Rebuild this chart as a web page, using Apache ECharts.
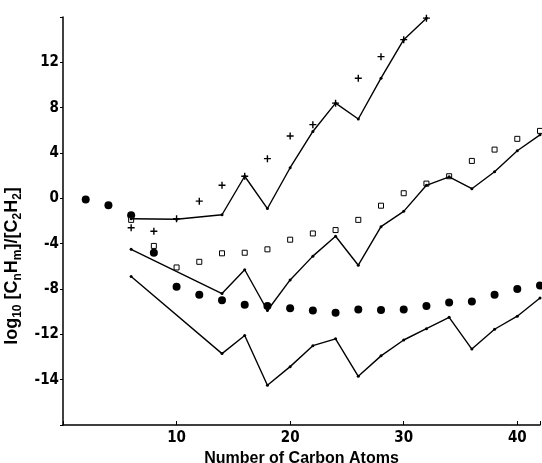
<!DOCTYPE html>
<html>
<head>
<meta charset="utf-8">
<script src="https://cdn.jsdelivr.net/npm/echarts@6/dist/echarts.min.js"></script>
<style>
* { margin: 0; padding: 0; }
body { background: #fff; }
</style>
</head>
<body>
<div id="chart" style="width: 542px;height: 463px;"></div>
<script>
// data (x = number of carbon atoms)
const dotX = [2, 4, 6, 8, 10, 12, 14, 16, 18, 20, 22, 24, 26, 28, 30, 32, 34, 36, 38, 40, 42]
const dotY = [-0.1, -0.6, -1.5, -4.8, -7.8, -8.5, -9.0, -9.4, -9.5, -9.7, -9.9, -10.1, -9.8, -9.85, -9.8, -9.5, -9.2, -9.1, -8.5, -8.0, -7.7]

const squareX = [6, 8, 10, 12, 14, 16, 18, 20, 22, 24, 26, 28, 30, 32, 34, 36, 38, 40, 42]
const squareY = [-1.9, -4.2, -6.1, -5.6, -4.85, -4.8, -4.5, -3.65, -3.1, -2.8, -1.9, -0.65, 0.45, 1.3, 1.95, 3.3, 4.3, 5.25, 5.95]

const crossX = [6, 8, 10, 12, 14, 16, 18, 20, 22, 24, 26, 28, 30, 32]
const crossY = [-2.6, -2.9, -1.8, -0.25, 1.15, 1.95, 3.5, 5.5, 6.5, 8.4, 10.6, 12.5, 14.0, 15.9]

const upperX = [6, 10, 14, 16, 18, 20, 22, 24, 26, 28, 30, 32]
const upperY = [-1.8, -1.85, -1.45, 1.95, -0.9, 2.7, 5.9, 8.4, 7.0, 10.6, 14.0, 15.9]

const middleX = [6, 14, 16, 18, 20, 22, 24, 26, 28, 30, 32, 34, 36, 38, 40, 42]
const middleY = [-4.5, -8.4, -6.3, -9.9, -7.2, -5.1, -3.35, -5.9, -2.5, -1.15, 1.15, 1.9, 0.85, 2.35, 4.2, 5.6]

const lowerX = [6, 14, 16, 18, 20, 22, 24, 26, 28, 30, 32, 34, 36, 38, 40, 42]
const lowerY = [-6.9, -13.7, -12.1, -16.5, -14.85, -13.0, -12.4, -15.7, -13.9, -12.5, -11.5, -10.5, -13.3, -11.55, -10.4, -8.8]

// tick labels as printed (the lowest one is printed "-14")
const yTickValues = [12, 8, 4, 0, -4, -8, -12, -16]
const yTickLabels = ['12', '8', '4', '0', '-4', '-8', '-12', '-14']
const xTickLabels = ['10', '20', '30', '40']

const zip = (xs, ys) => xs.map((x, i) => [x, ys[i]])

const tickFont = {
    color: '#000',
    fontFamily: "'Liberation Sans Narrow', 'DejaVu Sans Condensed', sans-serif",
    fontWeight: 'bold',
    fontSize: 15
}
const nameFont = "'Liberation Sans', Arial, sans-serif"
const crossPath = 'path://M4 0H6V4H10V6H6V10H4V6H0V4H4Z'

const lineSeries = {
    type: 'line',
    symbol: 'circle',
    symbolSize: 3,
    itemStyle: { color: '#000' },
    lineStyle: { color: '#000', width: 1.4 }
}

const chart = echarts.init(document.getElementById('chart'))
chart.setOption({
    animation: false,
    grid: { left: 63, right: 2, top: 17, bottom: 38, containLabel: false, outerBoundsMode: 'none' },
    xAxis: {
        type: 'value',
        min: 0,
        max: 42,
        interval: 10,
        splitLine: { show: false },
        axisLine: { onZero: false, lineStyle: { color: '#000', width: 1.5 } },
        axisTick: { inside: true, length: 4, lineStyle: { color: '#000' } },
        axisLabel: Object.assign({}, tickFont, {
            margin: 6,
            formatter: v => xTickLabels.includes(String(v)) ? String(v) : ''
        }),
        name: 'Number of Carbon Atoms',
        nameLocation: 'middle',
        nameGap: 22,
        nameTextStyle: {
            color: '#000',
            fontFamily: nameFont,
            fontWeight: 'bold',
            fontSize: 16,
            verticalAlign: 'top'
        }
    },
    yAxis: {
        type: 'value',
        min: -20,
        max: 16,
        interval: 4,
        splitLine: { show: false },
        axisLine: { show: true, onZero: false, lineStyle: { color: '#000', width: 1.5 } },
        axisTick: { show: true, length: 3, lineStyle: { color: '#000' } },
        axisLabel: Object.assign({}, tickFont, {
            margin: 4,
            formatter: v => {
                const i = yTickValues.indexOf(v)
                return i >= 0 ? yTickLabels[i] : ''
            }
        }),
        name: '{b|log}{s|10}{b| [C}{s|n}{b|H}{s|m}{b|]/[C}{s|2}{b|H}{s|2}{b|]}',
        nameLocation: 'middle',
        nameGap: 36,
        nameRotate: 90,
        nameTextStyle: {
            color: '#000',
            padding: [0, 90, 0, 0],
            rich: {
                b: {
                    color: '#000',
                    fontFamily: nameFont,
                    fontWeight: 'bold',
                    fontSize: 18,
                    lineHeight: 24,
                    verticalAlign: 'middle'
                },
                s: {
                    color: '#000',
                    fontFamily: nameFont,
                    fontWeight: 'bold',
                    fontSize: 12,
                    lineHeight: 24,
                    padding: [11, 0, 0, 0],
                    verticalAlign: 'middle'
                }
            }
        }
    },
    series: [
        Object.assign({}, lineSeries, { name: 'upper', data: zip(upperX, upperY) }),
        Object.assign({}, lineSeries, { name: 'middle', data: zip(middleX, middleY) }),
        Object.assign({}, lineSeries, { name: 'lower', data: zip(lowerX, lowerY) }),
        {
            name: 'dots',
            type: 'scatter',
            symbol: 'circle',
            symbolSize: 8,
            itemStyle: { color: '#000', opacity: 1 },
            data: zip(dotX, dotY)
        },
        {
            name: 'squares',
            type: 'scatter',
            symbol: 'rect',
            symbolSize: 5,
            itemStyle: { color: '#fff', borderColor: '#000', borderWidth: 1, opacity: 1 },
            data: zip(squareX, squareY)
        },
        {
            name: 'crosses',
            type: 'scatter',
            symbol: crossPath,
            symbolSize: 7,
            itemStyle: { color: '#000', opacity: 1 },
            data: zip(crossX, crossY)
        }
    ]
})
</script>
</body>
</html>
